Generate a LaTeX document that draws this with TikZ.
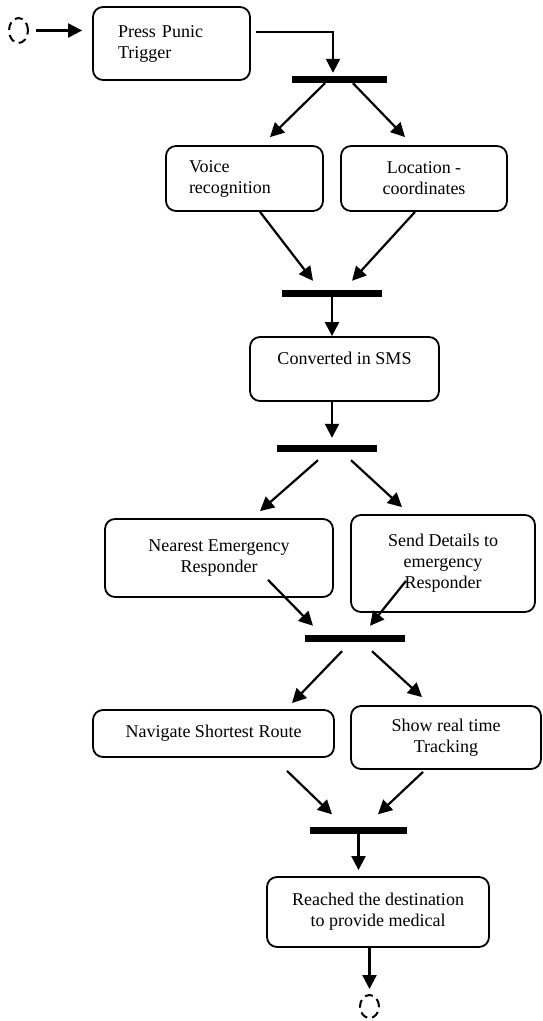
\documentclass[tikz,border=0pt]{standalone}
\usepackage{fontspec}
\setmainfont{Liberation Serif}
\usepackage{tikz}
\usetikzlibrary{shapes.geometric, arrows.meta}
\tikzstyle{block} = [draw, fill=white, rectangle, rounded corners=10pt,
    line width=1.8pt, inner sep=2pt, align=center]
\tikzstyle{bar} = [fill=black, rectangle, minimum height=7pt, inner sep=0pt]
\tikzstyle{line} = [draw, line width=2.2pt, -{Triangle[length=14pt, width=14pt]}]
\tikzstyle{terminal} = [draw, ellipse, line width=2pt, dash pattern=on 8pt off 5pt,
    minimum width=19pt, inner sep=0pt]

\begin{document}
\begin{tikzpicture}[x=1pt, y=-1pt, font=\fontsize{18pt}{21pt}\selectfont]
    \useasboundingbox (0,0) rectangle (543,1021);

    \node [terminal, minimum height=25pt] (start) at (18.5,30.5) {};
    \node [block, align=left, text width=107pt, inner xsep=25pt, minimum height=73pt] (trigger) at (171.5,43.5) {Press Punic\\Trigger};
    \node [bar, minimum width=95pt] (bar1) at (339.5,79.5) {};

    \node [block, align=left, text width=111pt, inner xsep=23pt, minimum height=65pt] (voice) at (244.5,178.5) {Voice\\recognition};
    \node [block, minimum width=166pt, minimum height=65pt] (loc) at (424,178.5) {Location -\\coordinates};
    \node [bar, minimum width=100pt] (bar2) at (332,293.5) {};

    \node [block, minimum width=189pt, minimum height=64pt] (sms) at (344.5,369) {Converted in SMS\\\mbox{}};
    \node [bar, minimum width=100pt] (bar3) at (327,448.5) {};

    \node [block, minimum width=228pt, minimum height=78pt] (nearest) at (219,558) {Nearest Emergency\\Responder};
    \node [block, minimum width=184pt, minimum height=97pt] (details) at (443,563.5) {Send Details to\\emergency\\Responder};
    \node [bar, minimum width=100pt] (bar4) at (355,638.5) {};

    \node [block, minimum width=241pt, minimum height=47pt] (route) at (213.5,733.5) {Navigate Shortest Route};
    \node [block, minimum width=190pt, minimum height=63pt] (track) at (446,737.5) {Show real time\\Tracking};
    \node [bar, minimum width=97pt] (bar5) at (358.5,830) {};

    \node [block, minimum width=222pt, minimum height=70pt] (reached) at (378,912) {Reached the destination\\to provide medical};
    \node [terminal, minimum height=23pt] (stop) at (369.5,1006.5) {};

    % flow
    \path [line, shorten <=7pt, shorten >=10pt] (start.east) -- (trigger.west |- start.east);
    \path [line] ([xshift=5pt, yshift=11.5pt]trigger.east) -| ([xshift=-6.5pt, yshift=3pt]bar1.north);
    \path [line] ([xshift=-14.5pt]bar1.south) -- ([xshift=25.5pt, yshift=8pt]voice.north);
    \path [line] ([xshift=13.5pt]bar1.south) -- ([xshift=-19pt, yshift=8pt]loc.north);
    \path [line] ([xshift=15.5pt]voice.south) -- ([xshift=-19pt, yshift=9pt]bar2.north);
    \path [line] ([xshift=-9pt]loc.south) -- ([xshift=20pt, yshift=9pt]bar2.north);
    \path [line] (bar2.south) -- (bar2.south |- sms.north);
    \path [line, shorten >=7pt] (bar2.south |- sms.south) -- (bar2.south |- bar3.north);
    \path [line] ([xshift=-9pt, yshift=-8pt]bar3.south) -- ([xshift=41pt, yshift=7pt]nearest.north);
    \path [line] ([xshift=24pt, yshift=-8pt]bar3.south) -- ([xshift=-41pt, yshift=7pt]details.north);
    \path [line] ([xshift=49pt, yshift=18pt]nearest.south) -- ([xshift=-42pt, yshift=9pt]bar4.north);
    \path [line] ([xshift=-37pt, yshift=32pt]details.south) -- ([xshift=15pt, yshift=9pt]bar4.north);
    \path [line] ([xshift=-13pt, yshift=-9pt]bar4.south) -- ([xshift=78.5pt, yshift=6pt]route.north);
    \path [line] ([xshift=17pt, yshift=-9pt]bar4.south) -- ([xshift=-24pt, yshift=8pt]track.north);
    \path [line] ([xshift=73.5pt, yshift=-13pt]route.south) -- ([xshift=-26.5pt, yshift=12pt]bar5.north);
    \path [line] ([xshift=-23pt, yshift=-2pt]track.south) -- ([xshift=19.5pt, yshift=12pt]bar5.north);
    \path [line, shorten >=6pt] (bar5.south) -- (bar5.south |- reached.north);
    \path [line, shorten >=5pt] (stop.north |- reached.south) -- (stop.north);
\end{tikzpicture}
\end{document}
